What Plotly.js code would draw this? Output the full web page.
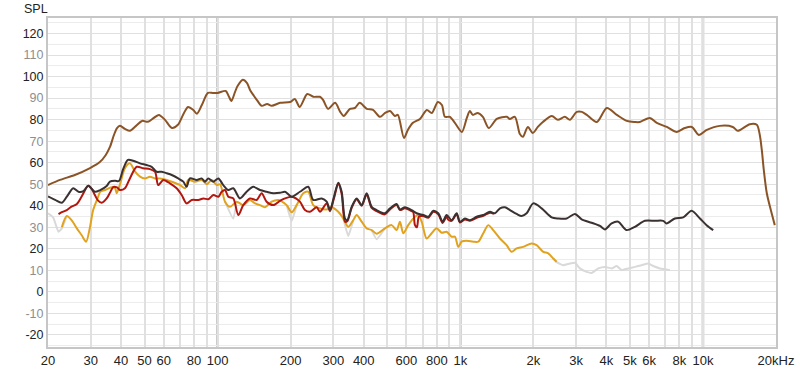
<!DOCTYPE html>
<html><head><meta charset="utf-8">
<script src="https://cdn.plot.ly/plotly-3.0.1.min.js"></script>
<style>html,body{margin:0;padding:0;background:#fff}#chart{width:800px;height:372px}</style>
</head><body><div id="chart"></div>
<script>
// ---- Brown (top) curve ----
const brownFreq = [20,22.4,25.8,29.8,32.7,34.6,36,37.4,38.5,39.6,
41.5,43.5,46.1,48.8,51.6,54.6,57.3,60.7,64.8,68.6,
72,75.5,79.4,82.1,86.1,91.2,95.6,100,108,111,
114,118,121,127,132,136,141,145,152,160,
167,181,199,208,218,234,248,264,272,285,
305,320,331,351,368,385,412,437,467,490,
513,538,553,586,608,638,682,728,763,808,
840,864,906,950,1015,1064,1095,1126,1181,1239,
1310,1414,1556,1600,1679,1760,1811,1899,1991,2087,
2189,2384,2524,2697,2828,3022,3169,3322,3652,4017,
4417,4855,5240,5494,6040,6456,7098,7804,8416,8997,
9616,10374,11736,13275,13920,15598,16669,17150,17479,17813,
18330,19040,19770];
const brownSpl = [49.6,52,54.3,57.5,60.3,63.6,67.3,72.9,76.1,77.1,
75.7,74.8,77.1,79.4,79,80.8,82.2,79.9,76.1,77.6,
82.2,85.9,84.5,82.7,86.8,92.4,92.4,92.4,93.3,91,
88.7,92.9,95.7,98.5,97.1,93.8,91.1,89.2,86.4,87.3,
86.4,87.8,88.2,89.6,85.9,91.9,90.6,90.6,89.2,85,
87.8,83.6,81.7,85,85.4,87.8,85,84.5,81.3,83.1,
84,81.7,82.2,71.5,75.2,78.5,80.3,84.5,83.1,88.2,
86.8,81.3,81.3,78.5,74.3,80.8,84,82.2,83.1,81.3,
76.1,80.3,81.3,80.3,81.3,73.3,72,76.6,73.8,76.6,
78.9,81.7,79.9,81.3,79.9,83.6,83.6,82.2,78.9,85.4,
82.2,79.4,78.9,78.9,80.8,78.5,76.6,74.3,76.1,76.6,
72.9,75.2,77.1,76.6,74.8,77.9,77.6,72.9,65.9,56.6,
45.8,38,31];

// ---- Dark curve ----
const darkFreq = [20,21.4,22.8,24.0,25.4,26.7,28.0,29.3,31.2,32.8,
34.9,36.0,37.8,39.2,40.8,42.7,44.9,47.9,51.0,53.5,
56.1,58.8,61.7,64.7,68.8,72.2,74.5,76.9,82.0,86.0,
88.7,91.6,96.0,100.7,105.5,110.7,116.0,123.6,131.7,140.3,
149.4,159.2,169.6,180.7,189.5,201.9,218.4,236.4,247.8,268.5,
281.5,290.5,301.7,314.2,324.5,334.8,342.2,356.8,374.1,392.3,
411.3,431.3,452.2,489.3,513.1,546.7,564.2,591.5,630.4,660.9,
703.6,738.0,773.8,811.5,845.9,878.7,921.4,966.1,996.8,1045,
1096,1168,1244,1325,1389,1457,1528,1602,1707,1790,
1877,1998,2164,2379,2533,2744,2968,3163,3478,3763,
3945,4204,4476,4846,5243,5765,6340,6857,7082,7662,
8292,8980,9718,10352,11022];
const darkSpl = [44.3,42.7,41.4,44.5,48.1,46.5,46.8,49.3,46.5,47.3,
49.2,51.2,51.6,51.5,57,61.3,60.9,59.7,58.9,58.1,
55.8,55.8,55.1,54.3,52.7,51.2,48.8,52.7,52,52.7,
51.2,52.7,51.2,52.7,49.6,47.3,48.1,43.4,46.5,48.8,
47.3,46.5,45.8,46,46.5,44.2,46.5,48.8,42.7,43.4,
41.9,38,44.2,50.7,46.5,34.1,33.3,39.5,43.4,40.3,
45.8,39.5,38,36.5,38.8,40.8,38.3,39.3,38,36.5,
35.7,34.9,37.7,36.5,32.6,35.7,33.3,36.5,32.6,34.1,
33.3,34.9,35.7,37.2,36.5,38.8,39.3,38,36.2,35.2,
36.5,41.1,38.8,34.6,34.1,34.1,36.2,33.7,32.1,30.6,
29,31.8,32.6,28.7,30.2,33,33,33,31.8,34.1,
34.6,37.7,34.1,31,28.7];

// ---- Red curve ----
const redFreq = [22.1,22.8,23.9,24.9,26.3,27.6,29.3,30.4,31.2,32.1,
33.3,34.9,36.0,37.2,38.5,39.6,41.5,43.5,46.4,49.4,
52.6,55.2,56.9,59.7,63.6,67.8,71.1,74.5,78.2,83.3,
87.3,91.6,96.0,100.7,104.0,107.3,110.7,116.0,121.7,127.6,
135.9,144.9,151.9,159.2,169.6,180.7,189.5,201.9,218.4,229.0,
240.2,255.9,264.1,281.5,290.5,301.7,314.2,324.5,334.8,342.2,
356.8,374.1,392.3,411.3,431.3,452.2,489.3,513.1,546.7,564.2,
591.5,630.4,640.1,650.4,662.8,675.5,703.6,738.0,773.8,811.5,
845.9,878.7,892.2,921.4,966.1,996.8,1045,1096,1168,1244,
1325,1376];
const redSpl = [36.1,37,38,39.5,40.8,44.5,49.3,47.5,45,42.5,
41.4,43.4,46,48.8,48.5,47.3,48.1,52.7,58.1,57.4,
57,55.8,49.6,52,50.4,48.1,45,41.1,42.7,42.7,
43.4,43,45,44.2,46.5,47.3,44.2,43.4,35.7,40.3,
43.4,42.7,45.8,41.9,40.3,42.3,43.4,44.2,41.9,38,
37.2,39.3,37.2,41,37.5,43.5,50.2,45.5,32.6,32.8,
39,43,40,45.3,39,37.5,36,38.3,40.3,38,
38.8,37.5,37,31,30,35,35.2,34.4,37.2,36,
32,35,33.5,33,36,32.2,33.6,33,34.4,35.3,
36.8,36.2];

// ---- Gold curve ----
const goldFreq = [22.8,23.9,25.0,26.3,27.5,28.7,29.8,30.7,32.2,32.8,
34.3,36.6,37.8,38.4,39.6,41.5,43.5,45.7,47.9,50.2,
52.6,55.2,57.9,61.7,65.7,70.0,73.4,75.7,80.7,86.0,
90.2,94.6,99.1,102.3,107.3,112.5,119.8,127.6,135.9,142.6,
149.4,156.8,167.0,177.8,192.5,201.9,211.7,225.4,236.4,247.8,
264.1,281.5,295.1,314.2,329.5,345.5,362.3,374.1,392.3,411.3,
431.3,452.2,489.3,521.5,546.7,564.2,582.1,610.3,650.4,671.2,
693.2,727.0,762.1,799.1,837.9,878.7,921.4,950.9,981.1,1013,
1062,1131,1186,1244,1304,1367,1457,1552,1628,1707,
1817,1968,2063,2198,2304,2416,2495];
const goldSpl = [30,35.2,33.3,29.5,26.4,23.3,30.2,38,44.2,46.5,
47.3,48.6,48.1,45.8,50,57.4,59.7,55.8,53.5,52.7,
53.5,52.7,52.7,52,50.9,49.6,48.1,52,51.2,52,
50,52,49.6,50,41.9,39.5,41.9,40.3,42.7,41.1,
40.3,39.3,41.9,42.7,40.3,37,40.3,45.8,46.5,40.3,
38.8,38.3,39.3,37.2,34.1,30.2,33.3,35.7,32.6,29.5,
28.7,27,29.5,31,28.7,32.6,27.2,31,34.9,35.7,
32.6,24.8,27.2,29.5,27.5,27.9,25.6,25.6,20.9,23.3,
23.7,23.3,23.3,27.2,31,28.7,24.8,21.7,18.6,20.2,
20.9,22.5,21.7,18.6,17.9,15.5,14];

// ---- Light grey curve (visible where it departs from gold) ----
const greyFreq = [20,21.0,22.1,22.8,23.9,null,
107.3,116,119.8,null,
192.5,201.9,211.7,null,
329.5,345.5,362.3,null,
431.3,452.2,489.3,null,
2416,2495,2656,2830,2968,3112,3316,3478,3702,3945,
4204,4408,4622,4922,5243,5588,5950,6238,6649,7311];
const greySpl = [36.5,34.6,27.9,29.5,35.2,null,
41.9,34,41.9,null,
40.3,33,40.3,null,
34.1,26,33.3,null,
28.7,24.5,29.5,null,
15.5,13.8,12.4,13.2,13.5,10.9,9.3,8.8,10.9,11.6,
10.9,12,10.1,10.9,11.6,12.4,13.2,12,10.9,10.1];

// ---- Axis ticks / grid ----
const xGridVals = [20,30,40,50,60,70,80,90,100,200,300,400,500,600,700,800,900,
  1000,2000,3000,4000,5000,6000,7000,8000,9000,10000,20000];
const xGridText = ['20','30','40','50','60','','80','','100','200','300','400','','600','','800','',
  '1k','2k','3k','4k','5k','6k','','8k','','10k','20kHz'];
const xDecadeLines = [100,1000,10000];
const yTickVals = [-20,-10,0,10,20,30,40,50,60,70,80,90,100,110,120];
const yGreyLabels = [-10,10,30,50,70,90,110];

const yTickText = yTickVals.map(v => yGreyLabels.includes(v)
  ? '<span style="color:#8e8e8e">' + v + '</span>' : String(v));

const lw = 2;
const sm = 0.8;
const traces = [
  {x: greyFreq, y: greySpl, mode: 'lines', line: {color: '#d9d9d9', width: lw, shape: 'spline', smoothing: 0.4}, connectgaps: false, hoverinfo: 'skip'},
  {x: goldFreq, y: goldSpl, mode: 'lines', line: {color: '#e1a21e', width: lw, shape: 'spline', smoothing: sm}, hoverinfo: 'skip'},
  {x: redFreq, y: redSpl, mode: 'lines', line: {color: '#b3160f', width: lw, shape: 'spline', smoothing: sm}, hoverinfo: 'skip'},
  {x: darkFreq, y: darkSpl, mode: 'lines', line: {color: '#3b3131', width: lw, shape: 'spline', smoothing: sm}, hoverinfo: 'skip'},
  {x: brownFreq, y: brownSpl, mode: 'lines', line: {color: '#8b5427', width: lw, shape: 'spline', smoothing: sm}, hoverinfo: 'skip'}
];

const layout = {
  width: 800, height: 372,
  margin: {l: 48, r: 24, t: 18, b: 25},
  paper_bgcolor: '#ffffff', plot_bgcolor: '#ffffff',
  showlegend: false,
  font: {family: '"Liberation Sans", Arial, sans-serif', color: '#222'},
  xaxis: {
    type: 'log', range: [Math.log10(20), Math.log10(20000)],
    tickmode: 'array', tickvals: xGridVals, ticktext: xGridText,
    tickfont: {size: 13, color: '#222'}, ticks: '',
    showgrid: true, gridcolor: '#e0e0e0', gridwidth: 2,
    showline: true, linecolor: '#c6c6c6', linewidth: 2, mirror: true,
    zeroline: false, fixedrange: true
  },
  yaxis: {
    range: [-25.6, 127.2],
    tickmode: 'array', tickvals: yTickVals, ticktext: yTickText,
    tickfont: {size: 12.5, color: '#222'}, ticks: '',
    showgrid: true, gridcolor: '#e0e0e0', gridwidth: 1,
    minor: {tickmode: 'linear', tick0: 0, dtick: 5, showgrid: true, gridcolor: '#ececec', gridwidth: 1, ticks: ''},
    showline: true, linecolor: '#c6c6c6', linewidth: 2, mirror: true,
    zeroline: false, fixedrange: true
  },
  shapes: xDecadeLines.map(f => ({
    type: 'line', xref: 'x', yref: 'paper', x0: f, x1: f, y0: 0, y1: 1,
    layer: 'between', line: {color: '#adadad', width: 2.5}
  })),
  annotations: [{
    text: 'SPL', xref: 'paper', yref: 'paper', x: -0.036, y: 1.027,
    xanchor: 'left', yanchor: 'middle', showarrow: false,
    font: {size: 12.5, color: '#222'}
  }]
};

Plotly.newPlot('chart', traces, layout, {displayModeBar: false, staticPlot: true});
</script>
</body></html>
